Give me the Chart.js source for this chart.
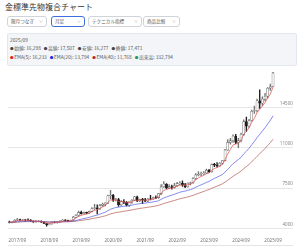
<!DOCTYPE html>
<html lang="ja">
<head>
<meta charset="utf-8">
<script src="https://cdn.jsdelivr.net/npm/chart.js@4.4.1/dist/chart.umd.min.js"></script>
<style>
  html, body { margin: 0; padding: 0; background: #fff; }
  body { width: 300px; height: 247px; position: relative; overflow: hidden;
         font-family: "Noto Sans CJK JP", "Noto Sans", sans-serif; color: #333; }
  .title { position: absolute; left: 5px; top: 1px; font-size: 8px; line-height: 11px; color: #333; }
  .sel { position: absolute; top: 16px; height: 9px; border: 1px solid #cfd3da; border-radius: 3px;
         font-size: 4.6px; line-height: 9px; color: #555; padding-left: 3px; box-sizing: content-box; }
  .sel span { position: absolute; right: 3px; top: 0; color: #999; font-size: 4px; }
  .sel.on { border-color: #3d6fe0; }
  .panel { position: absolute; left: 7px; top: 33px; width: 286px; height: 28px; padding: 1.5px 1px;
           background: #f3f5f9; border: 1px solid #e3e7ee; border-radius: 2px;
           font-size: 4.8px; line-height: 8.5px; color: #555; white-space: nowrap; }
  .panel div { padding-left: 1px; }
  .panel b { font-weight: normal; font-size: 3.6px; margin-right: 0.6px; vertical-align: 0.3px; }
  .panel i { font-style: normal; margin-right: 3px; }
  #wrap { position: absolute; left: 0; top: 64px; width: 300px; height: 183px; }
  .foot { position: absolute; left: 8px; top: 245px; width: 285px; height: 1px; background: #e4e4e4; }
</style>
</head>
<body>
<div class="title">金標準先物複合チャート</div>
<div class="sel" style="left:7px;width:35px">限月つなぎ<span>∨</span></div>
<div class="sel on" style="left:51px;width:29px">月足<span>∨</span></div>
<div class="sel" style="left:88px;width:49px">テクニカル指標<span>∨</span></div>
<div class="sel" style="left:143px;width:32px">商品比較<span>∨</span></div>
<div class="panel">
  <div>2025/09</div>
  <div><b style="color:#444">●</b><i>始値: 16,298</i><b style="color:#444">●</b><i>高値: 17,507</i><b style="color:#444">●</b><i>安値: 16,277</i><b style="color:#444">●</b><i>終値: 17,471</i></div>
  <div><b style="color:#ee1c1c">●</b><i>EMA(5): 16,233</i><b style="color:#1a2ee6">●</b><i>EMA(20): 13,794</i><b style="color:#b8312f">●</b><i>EMA(40): 11,768</i><b style="color:#23955a">●</b><i>出来高: 332,794</i></div>
</div>
<div id="wrap"><canvas id="chart" width="300" height="183"></canvas></div>
<div class="foot"></div>

<script>
// monthly candles, 2017/06 .. 2025/09 (yen per gram)
const firstYear = 2017;
const firstMonth = 6;
const monthCount = 107; // 100 months of data + empty months on the right

const opens = [
  4560, 4540, 4540, 4720, 4760, 4740, 4750,
  4740, 4720, 4640, 4560, 4620, 4620, 4550, 4430, 4330, 4390, 4560, 4540,
  4570, 4650, 4720, 4700, 4640, 4690, 4980, 5150, 5390, 5280, 5390, 5330,
  5480, 5730, 5790, 5700, 6000, 6100, 6200, 6830, 6880, 6460, 6500, 6060,
  6330, 6280, 6010, 6300, 6440, 6750, 6390, 6520, 6480, 6370, 6560, 6550,
  6680, 6670, 7020, 7600, 7850, 7520, 7620, 7560, 7720, 7880, 7940, 7780,
  7620, 7920, 7960, 8330, 8640, 8700, 8750, 8800, 9050, 8900, 9550, 9480,
  9420, 9650, 9880, 10800, 11450, 11600, 12000, 11450, 11600, 12150, 13250, 12850,
  13350, 14150, 14200, 15050, 14850, 15200, 15450, 16150, 16298
];
const highs = [
  4640, 4600, 4760, 4880, 4810, 4800, 4780,
  4830, 4760, 4670, 4680, 4690, 4660, 4590, 4450, 4420, 4590, 4600, 4620,
  4680, 4780, 4760, 4720, 4720, 5050, 5200, 5500, 5500, 5420, 5410, 5500,
  5800, 6100, 6050, 6100, 6200, 6250, 6900, 7300, 6950, 6600, 6600, 6420,
  6500, 6320, 6300, 6500, 6780, 6800, 6550, 6600, 6600, 6580, 6880, 6720,
  6820, 7050, 7800, 8050, 7880, 7800, 7750, 7900, 8000, 8050, 8120, 7900,
  7950, 8020, 8400, 8750, 8920, 8880, 8920, 9150, 9130, 9600, 9650, 9700,
  9700, 9900, 10850, 11700, 11800, 12100, 12150, 11800, 12250, 13400, 13650, 13450,
  14250, 14600, 15200, 16000, 15400, 15700, 16200, 16500, 17507
];
const lows = [
  4490, 4480, 4520, 4680, 4690, 4700, 4610,
  4700, 4600, 4520, 4550, 4560, 4520, 4420, 4200, 4300, 4370, 4480, 4470,
  4520, 4630, 4620, 4600, 4590, 4650, 4930, 5050, 5230, 5250, 5260, 5310,
  5430, 5650, 5250, 5650, 5900, 5950, 6150, 6560, 6350, 6380, 5900, 5980,
  6150, 5950, 5900, 6180, 6400, 6330, 6320, 6150, 6330, 6320, 6480, 6520,
  6580, 6600, 6920, 7550, 7450, 7450, 7400, 7500, 7650, 7780, 7650, 7540,
  7580, 7780, 7900, 8250, 8550, 8570, 8650, 8750, 8850, 8870, 9350, 9300,
  9380, 9550, 9850, 10750, 11300, 11450, 11350, 11000, 11500, 12050, 12400, 12750,
  13300, 13950, 14100, 14400, 14650, 15050, 15300, 15950, 16277
];
const closes = [
  4540, 4540, 4720, 4760, 4740, 4750, 4740,
  4720, 4640, 4560, 4620, 4620, 4550, 4430, 4330, 4390, 4560, 4540, 4570,
  4650, 4720, 4700, 4640, 4690, 4980, 5150, 5390, 5280, 5390, 5330, 5480,
  5730, 5790, 5700, 6000, 6100, 6200, 6830, 6880, 6460, 6500, 6060, 6330,
  6280, 6010, 6300, 6440, 6750, 6390, 6520, 6480, 6370, 6560, 6550, 6680,
  6670, 7020, 7600, 7850, 7520, 7620, 7560, 7720, 7880, 7940, 7780, 7620,
  7920, 7960, 8330, 8640, 8700, 8750, 8800, 9050, 8900, 9550, 9480, 9420,
  9650, 9880, 10800, 11450, 11600, 12000, 11450, 11600, 12150, 13250, 12850, 13350,
  14150, 14200, 15050, 14850, 15200, 15450, 16150, 16290, 17471
];
const yTicks = [4000, 7500, 11000, 14500];

// month labels like 2017/06
const labels = [];
for (let i = 0; i < monthCount; i++) {
  const m = firstMonth - 1 + i;
  const y = firstYear + Math.floor(m / 12);
  labels.push(y + "/" + String(m % 12 + 1).padStart(2, "0"));
}

// EMA of the closing prices, as the chart's technical indicator
function ema(values, n) {
  const k = 2 / (n + 1);
  let prev = values[0];
  return values.map(v => (prev = prev + k * (v - prev)));
}

const isUp = closes.map((c, i) => c >= opens[i]);
const bodies = closes.map((c, i) => [Math.min(opens[i], c), Math.max(opens[i], c)]);
const wicks = highs.map((h, i) => [lows[i], h]);

const ctx = document.getElementById("chart").getContext("2d");
new Chart(ctx, {
  type: "bar",
  data: {
    labels: labels,
    datasets: [
      {
        type: "line", label: "EMA(5)", data: ema(closes, 5), order: 1,
        borderColor: "#e5504c", borderWidth: 0.75, pointRadius: 0, tension: 0
      },
      {
        type: "line", label: "EMA(20)", data: ema(closes, 20), order: 1,
        borderColor: "#5b64e8", borderWidth: 0.75, pointRadius: 0, tension: 0
      },
      {
        type: "line", label: "EMA(40)", data: ema(closes, 40), order: 1,
        borderColor: "#b8605b", borderWidth: 0.75, pointRadius: 0, tension: 0
      },
      {
        label: "body", data: bodies, order: 2, grouped: false,
        barThickness: 2.2, borderSkipped: false, borderWidth: 0.6,
        backgroundColor: isUp.map(u => u ? "#ffffff" : "#1e1e1e"),
        borderColor: isUp.map(u => u ? "#666666" : "#1e1e1e")
      },
      {
        label: "wick", data: wicks, order: 3, grouped: false,
        barThickness: 0.7, borderWidth: 0,
        backgroundColor: isUp.map(u => u ? "#777777" : "#1e1e1e")
      }
    ]
  },
  options: {
    responsive: false,
    animation: false,
    devicePixelRatio: 1,
    layout: { padding: { left: 8, right: 7, top: 1.5, bottom: 3 } },
    plugins: { legend: { display: false }, tooltip: { enabled: false } },
    scales: {
      x: {
        grid: { display: false },
        border: { display: false },
        afterBuildTicks: scale => {
          scale.ticks = scale.ticks.filter(t => labels[t.value].endsWith("/09"));
        },
        ticks: {
          autoSkip: false, maxRotation: 0, padding: 1,
          color: "#777", font: { family: "'Noto Sans', sans-serif", size: 4.6 }
        }
      },
      y: {
        position: "right",
        min: 4000,
        max: 18000,
        afterBuildTicks: scale => {
          scale.ticks = yTicks.map(v => ({ value: v }));
        },
        grid: { color: "#e6e6e6", drawTicks: false },
        border: { display: false },
        ticks: {
          mirror: true, padding: 0, labelOffset: -4,
          callback: v => String(v),
          color: "#888", font: { family: "'Noto Sans', sans-serif", size: 4.6 }
        }
      }
    }
  }
});
</script>
</body>
</html>
